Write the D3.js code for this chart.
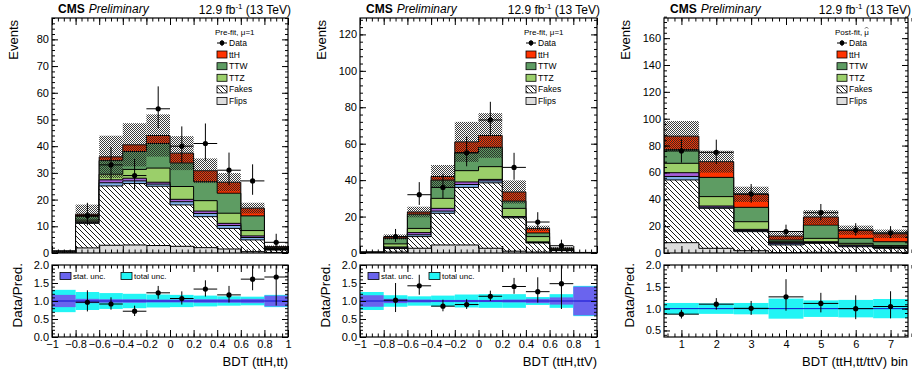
<!DOCTYPE html>
<html>
<head>
<meta charset="utf-8">
<script src="https://cdn.jsdelivr.net/npm/d3@7"></script>
<style>
  body { margin: 0; background: #fff; }
  svg { display: block; font-family: "Liberation Sans", Arial, Helvetica, sans-serif; }
</style>
</head>
<body>
<svg id="chart" width="912" height="374"></svg>
<script>
// ---- binning / ticks ----
const bdtEdges = [-1, -0.8, -0.6, -0.4, -0.2, 0, 0.2, 0.4, 0.6, 0.8, 1];
const binEdges = [0.5, 1.5, 2.5, 3.5, 4.5, 5.5, 6.5, 7.5];
const bdtTicks = [-1, -0.8, -0.6, -0.4, -0.2, 0, 0.2, 0.4, 0.6, 0.8, 1];
const binTicks = [1, 2, 3, 4, 5, 6, 7];

// ---- BDT (ttH,tt), pre-fit ----
const ttFlips = [0.1, 1.9, 2.9, 3.0, 2.8, 2.5, 2.0, 1.5, 0.5, 0.2];
const ttFakes = [0.4, 9.2, 22.2, 23.0, 22.2, 15.5, 11.6, 7.7, 4.4, 0.9];
const ttRares = [0.05, 0.3, 1.2, 1.0, 0.8, 1.2, 1.2, 1.1, 0.9, 0.2];
const ttEwk = [0.05, 0.3, 1.1, 1.0, 0.7, 0.9, 0.9, 0.8, 0.6, 0.1];
const ttTTZ = [0.05, 0.6, 2.1, 3.3, 5.3, 4.8, 3.9, 3.8, 2.0, 0.3];
const ttTTW = [0.05, 1.4, 5.1, 6.7, 9.2, 8.8, 7.1, 7.5, 5.5, 0.4];
const ttTTH = [0.05, 0.8, 1.4, 2.5, 3.0, 3.7, 4.1, 4.1, 2.9, 0.3];
const ttData = [0, 14, 33, 29, 54, 40, 41, 31, 27, 4];
const ttErrHi = [0, 4.8, 6.7, 6.2, 8.4, 7.4, 7.5, 6.6, 6.2, 3.2];
const ttErrLo = [0, 3.7, 5.7, 5.4, 7.3, 6.3, 6.4, 5.6, 5.2, 1.9];
const ttTotUnc = [0.31, 0.25, 0.22, 0.2, 0.18, 0.17, 0.15, 0.13, 0.12, 0.17];
const ttStatUnc = [0.17, 0.06, 0.05, 0.05, 0.04, 0.04, 0.05, 0.05, 0.06, 0.15];

// ---- BDT (ttH,ttV), pre-fit ----
const tvFlips = [0.05, 0.5, 2.6, 4.4, 4.4, 2.6, 1.0, 0.5, 0.1, 0.02];
const tvFakes = [0.25, 2.0, 6.4, 17.4, 31.6, 35.9, 18.3, 5.0, 1.2, 0.13];
const tvRares = [0.03, 0.4, 1.0, 1.2, 1.6, 1.1, 0.4, 0.3, 0.1, 0.02];
const tvEwk = [0.02, 0.4, 1.2, 1.5, 1.4, 0.8, 0.3, 0.3, 0.1, 0.01];
const tvTTZ = [0.05, 1.7, 2.3, 5.5, 6.2, 7.0, 4.5, 2.9, 0.5, 0.02];
const tvTTW = [0.05, 3.0, 7.8, 10.0, 9.8, 10.6, 4.0, 2.0, 0.4, 0.05];
const tvTTH = [0.05, 0.8, 1.2, 2.0, 6.0, 6.5, 5.0, 2.5, 0.3, 0.05];
const tvData = [0, 9, 32, 36, 55, 73, 47, 17, 4, 0];
const tvErrHi = [0, 4.2, 6.9, 7.5, 9.0, 10.0, 8.0, 5.4, 3.3, 0];
const tvErrLo = [0, 2.9, 5.6, 6.0, 7.4, 8.5, 6.8, 4.1, 1.9, 0];
const tvTotUnc = [0.25, 0.16, 0.13, 0.15, 0.18, 0.19, 0.19, 0.11, 0.19, 0.42];
const tvStatUnc = [0.16, 0.06, 0.04, 0.03, 0.03, 0.03, 0.04, 0.06, 0.1, 0.4];

// ---- BDT (ttH,tt/ttV) bin, post-fit ----
const fitFlips = [7.7, 3.5, 1.7, 0.3, 0.5, 0.3, 0.2];
const fitFakes = [46.7, 29.8, 14.2, 5.7, 6.7, 4.4, 3.3];
const fitRares = [2.6, 0.8, 0.8, 0.9, 0.6, 0.7, 0.6];
const fitEwk = [2.8, 0.9, 0.9, 0.8, 0.6, 0.6, 0.6];
const fitTTZ = [7.0, 7.0, 5.7, 0.7, 2.5, 1.2, 0.8];
const fitTTW = [10.2, 14.3, 10.7, 1.3, 9.9, 3.7, 2.9];
const fitTTH = [10.0, 11.7, 9.7, 2.9, 6.0, 6.1, 5.9];
const fitData = [76, 75, 44, 16, 30, 17, 15];
const fitErrHi = [8.8, 9.4, 7.4, 5.1, 6.5, 5.2, 5.0];
const fitErrLo = [8.7, 8.6, 6.6, 4.0, 5.5, 4.1, 3.9];
const fitTotUnc = [0.13, 0.12, 0.13, 0.23, 0.19, 0.2, 0.22];

const legendLabels = ['Data', 'ttH', 'TTW', 'TTZ', 'Fakes', 'Flips'];

const svg = d3.select('#chart');
const defs = svg.append('defs');

// fakes hatch "\\\\"
const hatch = defs.append('pattern').attr('id', 'hatch')
  .attr('width', 5).attr('height', 5).attr('patternUnits', 'userSpaceOnUse');
hatch.append('rect').attr('width', 5).attr('height', 5).attr('fill', '#fff');
hatch.append('path').attr('d', 'M-1,-1 L6,6 M-1,4 L1,6 M4,-1 L6,1')
  .attr('stroke', '#000').attr('stroke-width', 0.9);

// uncertainty band: fine checker
const band = defs.append('pattern').attr('id', 'band')
  .attr('width', 2).attr('height', 2).attr('patternUnits', 'userSpaceOnUse');
band.append('rect').attr('width', 1).attr('height', 1).attr('fill', '#262626');
band.append('rect').attr('x', 1).attr('y', 1).attr('width', 1).attr('height', 1).attr('fill', '#262626');

const TOP = 18, BOT = 253, RTOP = 265, RBOT = 337;

const panels = [
  {
    id: 'tt', left: 52, right: 288, edges: bdtEdges, xTicks: bdtTicks, xMinor: 0.05,
    yMax: 88, yStep: 10, yMinor: 2, rMin: 0, header: 'Pre-fit, \u03bc=1', hat: false,
    title: 'BDT (ttH,tt)', stat: ttStatUnc,
    flips: ttFlips, fakes: ttFakes, rares: ttRares, ewk: ttEwk, ttz: ttTTZ, ttw: ttTTW, tth: ttTTH,
    data: ttData, hi: ttErrHi, lo: ttErrLo, unc: ttTotUnc
  },
  {
    id: 'tv', left: 360, right: 597, edges: bdtEdges, xTicks: bdtTicks, xMinor: 0.05,
    yMax: 129, yStep: 20, yMinor: 4, rMin: 0, header: 'Pre-fit, \u03bc=1', hat: false,
    title: 'BDT (ttH,ttV)', stat: tvStatUnc,
    flips: tvFlips, fakes: tvFakes, rares: tvRares, ewk: tvEwk, ttz: tvTTZ, ttw: tvTTW, tth: tvTTH,
    data: tvData, hi: tvErrHi, lo: tvErrLo, unc: tvTotUnc
  },
  {
    id: 'fit', left: 664, right: 908, edges: binEdges, xTicks: binTicks, xMinor: 0.2,
    yMax: 175, yStep: 20, yMinor: 4, rMin: 0.35, header: 'Post-fit, \u03bc', hat: true,
    title: 'BDT (ttH,tt/ttV) bin', stat: null,
    flips: fitFlips, fakes: fitFakes, rares: fitRares, ewk: fitEwk, ttz: fitTTZ, ttw: fitTTW, tth: fitTTH,
    data: fitData, hi: fitErrHi, lo: fitErrLo, unc: fitTotUnc
  }
];

const stepRange = (a, b, s) => d3.range(Math.round(a / s), Math.round(b / s) + 1).map(k => +(k * s).toFixed(4));

function styleAxis(g, size) {
  g.select('.domain').remove();
  g.selectAll('line').attr('stroke', '#000').attr('stroke-width', 1);
  g.attr('font-family', null).attr('font-size', size);
  g.selectAll('text').attr('fill', '#000');
}

function drawAxes(g, x, y, p, yTicks, yMinorTicks, yFmt, top, bot, labelsX) {
  const xMaj = p.xTicks, xMin = stepRange(p.edges[0], p.edges[p.edges.length - 1], p.xMinor);
  // left
  g.append('g').attr('transform', `translate(${p.left},0)`)
    .call(d3.axisLeft(y).tickValues(yTicks).tickSize(-6).tickPadding(3).tickFormat(yFmt))
    .call(a => styleAxis(a, 11));
  g.append('g').attr('transform', `translate(${p.left},0)`)
    .call(d3.axisLeft(y).tickValues(yMinorTicks).tickSize(-3).tickFormat(''))
    .call(a => styleAxis(a, 11));
  // right
  g.append('g').attr('transform', `translate(${p.right},0)`)
    .call(d3.axisRight(y).tickValues(yTicks).tickSize(-6).tickFormat(''))
    .call(a => styleAxis(a, 11));
  g.append('g').attr('transform', `translate(${p.right},0)`)
    .call(d3.axisRight(y).tickValues(yMinorTicks).tickSize(-3).tickFormat(''))
    .call(a => styleAxis(a, 11));
  // bottom
  g.append('g').attr('transform', `translate(0,${bot})`)
    .call(d3.axisBottom(x).tickValues(xMaj).tickSize(-7).tickPadding(3)
      .tickFormat(labelsX ? d3.format('~g') : ''))
    .call(a => styleAxis(a, 11));
  g.append('g').attr('transform', `translate(0,${bot})`)
    .call(d3.axisBottom(x).tickValues(xMin).tickSize(-3.5).tickFormat(''))
    .call(a => styleAxis(a, 11));
  // top
  g.append('g').attr('transform', `translate(0,${top})`)
    .call(d3.axisTop(x).tickValues(xMaj).tickSize(-7).tickFormat(''))
    .call(a => styleAxis(a, 11));
  g.append('g').attr('transform', `translate(0,${top})`)
    .call(d3.axisTop(x).tickValues(xMin).tickSize(-3.5).tickFormat(''))
    .call(a => styleAxis(a, 11));
}

function drawPoints(g, x, yScale, p, vals, hi, lo) {
  const pts = vals.map((v, i) => ({ i, v, hi: hi[i], lo: lo[i] })).filter(d => d.v > 0);
  const pg = g.append('g');
  pg.selectAll('.xerr').data(pts).join('line')
    .attr('x1', d => x(p.edges[d.i])).attr('x2', d => x(p.edges[d.i + 1]))
    .attr('y1', d => yScale(d.v)).attr('y2', d => yScale(d.v))
    .attr('stroke', '#000').attr('stroke-width', 1);
  pg.selectAll('.yerr').data(pts).join('line')
    .attr('x1', d => x((p.edges[d.i] + p.edges[d.i + 1]) / 2))
    .attr('x2', d => x((p.edges[d.i] + p.edges[d.i + 1]) / 2))
    .attr('y1', d => yScale(d.v + d.hi)).attr('y2', d => yScale(d.v - d.lo))
    .attr('stroke', '#000').attr('stroke-width', 1);
  pg.selectAll('circle').data(pts).join('circle')
    .attr('cx', d => x((p.edges[d.i] + p.edges[d.i + 1]) / 2))
    .attr('cy', d => yScale(d.v)).attr('r', 2.6).attr('fill', '#000');
}

panels.forEach(p => {
  const n = p.edges.length - 1;
  const x = d3.scaleLinear().domain([p.edges[0], p.edges[n]]).range([p.left, p.right]);
  const y = d3.scaleLinear().domain([0, p.yMax]).range([BOT, TOP]);
  const r = d3.scaleLinear().domain([p.rMin, 2]).range([RBOT, RTOP]);

  const comps = [
    { vals: p.flips, fill: '#dedede' },
    { vals: p.fakes, fill: 'url(#hatch)' },
    { vals: p.rares, fill: '#80b0e8' },
    { vals: p.ewk, fill: '#a65ed8' },
    { vals: p.ttz, fill: '#9bcf6a' },
    { vals: p.ttw, fill: '#5e9c63' },
    { vals: p.tth, fill: '#ff3300' }
  ];
  let run = new Array(n).fill(0);
  comps.forEach(c => { run = run.map((v, i) => v + c.vals[i]); c.cum = run.slice(); });
  const total = comps[comps.length - 1].cum;

  // clip paths
  defs.append('clipPath').attr('id', 'up-' + p.id).append('rect')
    .attr('x', p.left).attr('y', TOP).attr('width', p.right - p.left).attr('height', BOT - TOP);
  defs.append('clipPath').attr('id', 'lo-' + p.id).append('rect')
    .attr('x', p.left).attr('y', RTOP).attr('width', p.right - p.left).attr('height', RBOT - RTOP);

  // ---------- upper pad ----------
  const up = svg.append('g').attr('clip-path', `url(#up-${p.id})`);
  const steps = cum => cum.flatMap((v, i) => [[p.edges[i], v], [p.edges[i + 1], v]]);
  const area = d3.area().x(d => x(d[0])).y0(y(0)).y1(d => y(d[1]));
  const outline = d3.line().x(d => x(d[0])).y(d => y(d[1]));

  comps.slice().reverse().forEach(c => {
    const pts = steps(c.cum);
    up.append('path').attr('d', area(pts)).attr('fill', c.fill).attr('stroke', 'none');
    up.append('path')
      .attr('d', outline([[p.edges[0], 0], ...pts, [p.edges[n], 0]]))
      .attr('fill', 'none').attr('stroke', '#000').attr('stroke-width', 1);
  });

  up.selectAll('.unc').data(total).join('rect')
    .attr('x', (d, i) => x(p.edges[i])).attr('width', (d, i) => x(p.edges[i + 1]) - x(p.edges[i]))
    .attr('y', (d, i) => y(d * (1 + p.unc[i])))
    .attr('height', (d, i) => y(d * (1 - p.unc[i])) - y(d * (1 + p.unc[i])))
    .attr('fill', 'url(#band)').attr('opacity', 0.9);

  drawPoints(up, x, y, p, p.data, p.hi, p.lo);

  svg.append('rect').attr('x', p.left).attr('y', TOP).attr('width', p.right - p.left).attr('height', BOT - TOP)
    .attr('fill', 'none').attr('stroke', '#000').attr('stroke-width', 1.2);
  const upAx = svg.append('g');
  drawAxes(upAx, x, y, p, d3.range(0, p.yMax, p.yStep), stepRange(0, p.yMax, p.yMinor), d3.format('d'), TOP, BOT, false);

  // ---------- lower pad ----------
  const lo = svg.append('g').attr('clip-path', `url(#lo-${p.id})`);
  lo.selectAll('.tot').data(p.unc).join('rect')
    .attr('x', (d, i) => x(p.edges[i])).attr('width', (d, i) => x(p.edges[i + 1]) - x(p.edges[i]))
    .attr('y', d => r(1 + d)).attr('height', d => r(1 - d) - r(1 + d))
    .attr('fill', '#22f5f5');
  if (p.stat) {
    lo.selectAll('.stat').data(p.stat).join('rect')
      .attr('x', (d, i) => x(p.edges[i])).attr('width', (d, i) => x(p.edges[i + 1]) - x(p.edges[i]))
      .attr('y', d => r(1 + d)).attr('height', d => r(1 - d) - r(1 + d))
      .attr('fill', '#6a64ee');
  }
  lo.append('line').attr('x1', p.left).attr('x2', p.right).attr('y1', r(1)).attr('y2', r(1))
    .attr('stroke', '#1010d0').attr('stroke-width', 1);
  drawPoints(lo, x, r, p,
    p.data.map((v, i) => v / total[i]), p.hi.map((v, i) => v / total[i]), p.lo.map((v, i) => v / total[i]));

  svg.append('rect').attr('x', p.left).attr('y', RTOP).attr('width', p.right - p.left).attr('height', RBOT - RTOP)
    .attr('fill', 'none').attr('stroke', '#000').attr('stroke-width', 1.2);
  const loAx = svg.append('g');
  const rMajor = stepRange(Math.ceil(p.rMin * 2) / 2, 2, 0.5);
  drawAxes(loAx, x, r, p, rMajor, stepRange(Math.ceil(p.rMin * 10) / 10, 2, 0.1), d3.format('.1f'), RTOP, RBOT, true);

  // ---------- texts ----------
  const t = svg.append('text').attr('x', p.left + 6).attr('y', 13).attr('font-size', 12);
  t.append('tspan').attr('font-weight', 'bold').text('CMS');
  t.append('tspan').attr('font-style', 'italic').attr('dx', 4).text('Preliminary');

  const lumi = svg.append('text').attr('x', p.right + 3).attr('y', 14).attr('font-size', 12)
    .attr('text-anchor', 'end');
  lumi.append('tspan').text('12.9 fb');
  lumi.append('tspan').attr('font-size', 8).attr('dy', -5).text('-1');
  lumi.append('tspan').attr('dy', 5).text(' (13 TeV)');

  svg.append('text').attr('transform', `translate(${p.left - 34},20) rotate(-90)`)
    .attr('text-anchor', 'end').attr('font-size', 13).text('Events');
  svg.append('text').attr('transform', `translate(${p.left - 30},263) rotate(-90)`)
    .attr('text-anchor', 'end').attr('font-size', 13.5).text('Data/Pred.');
  svg.append('text').attr('x', p.right).attr('y', 366).attr('text-anchor', 'end')
    .attr('font-size', 13).text(p.title);

  // legend
  const bx = p.right - 71;
  const lg = svg.append('g').attr('font-size', 8.5);
  const head = lg.append('text').attr('x', bx - 2).attr('y', 35).attr('font-size', 8).text(p.header);
  if (p.hat) {
    // hat over the mu, drawn as a small caret path
    const hx = bx - 2 + head.node().getComputedTextLength() - 2.4;
    lg.append('path').attr('d', `M${hx - 1.6},${28.6} L${hx},${27} L${hx + 1.6},${28.6}`)
      .attr('fill', 'none').attr('stroke', '#000').attr('stroke-width', 0.6);
  }
  const rows = [43, 54.5, 66.2, 77.8, 89.4, 101];
  const fills = [null, '#ff3300', '#5e9c63', '#9bcf6a', 'url(#hatch)', '#dedede'];
  legendLabels.forEach((lab, k) => {
    const yc = rows[k];
    if (k === 0) {
      lg.append('line').attr('x1', bx).attr('x2', bx + 10).attr('y1', yc).attr('y2', yc).attr('stroke', '#000');
      lg.append('line').attr('x1', bx + 5).attr('x2', bx + 5).attr('y1', yc - 3).attr('y2', yc + 3).attr('stroke', '#000');
      lg.append('circle').attr('cx', bx + 5).attr('cy', yc).attr('r', 2.4).attr('fill', '#000');
    } else {
      lg.append('rect').attr('x', bx).attr('y', yc - 3.5).attr('width', 10).attr('height', 7)
        .attr('fill', fills[k]).attr('stroke', '#000').attr('stroke-width', 0.8);
    }
    lg.append('text').attr('x', bx + 12).attr('y', yc + 3).text(lab);
  });

  if (p.stat) {
    const ll = svg.append('g').attr('font-size', 8);
    [['stat. unc.', '#6a64ee', 8], ['total unc.', '#22f5f5', 69]].forEach(([lab, col, dx]) => {
      ll.append('rect').attr('x', p.left + dx).attr('y', 272.5).attr('width', 11).attr('height', 7)
        .attr('fill', col).attr('stroke', '#000').attr('stroke-width', 0.8);
      ll.append('text').attr('x', p.left + dx + 13).attr('y', 279).text(lab);
    });
  }
});
</script>
</body>
</html>
